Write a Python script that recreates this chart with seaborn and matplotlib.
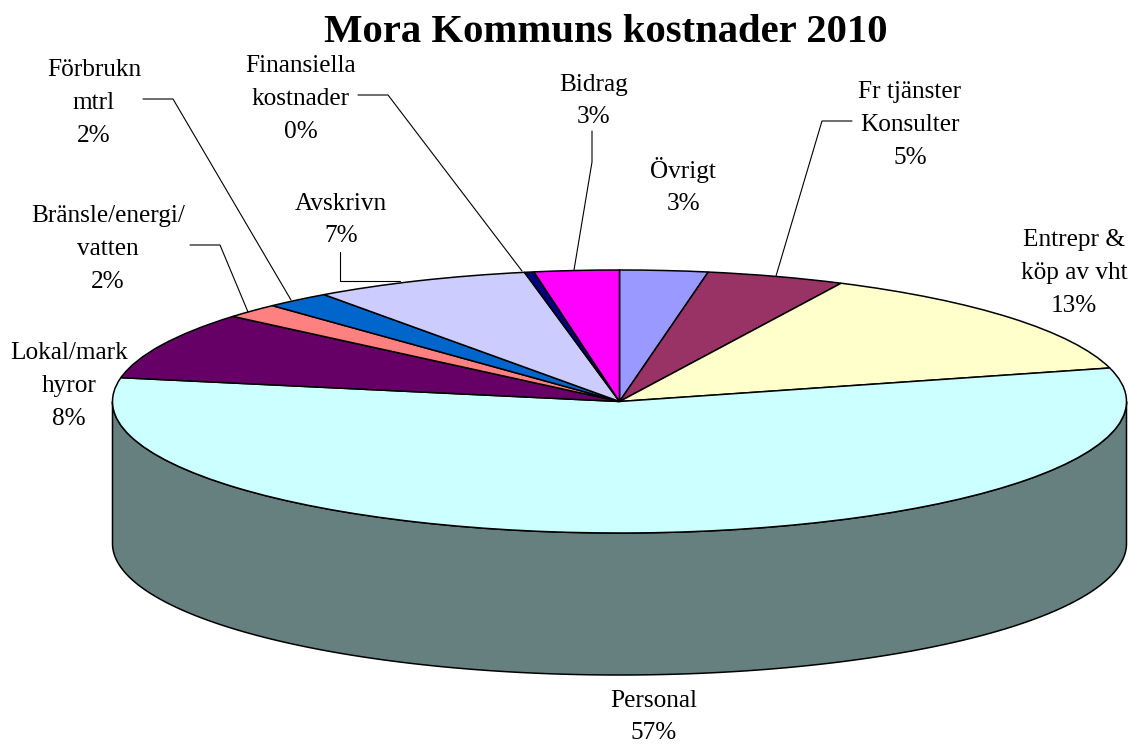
import numpy as np
import matplotlib
matplotlib.use('Agg')
import matplotlib.pyplot as plt
import seaborn as sns

# slices run clockwise from 12 o'clock
categories = ['Övrigt', 'Fr tjänster\nKonsulter', 'Entrepr &\nköp av vht', 'Personal', 'Lokal/mark\nhyror',
              'Bränsle/energi/\nvatten', 'Förbrukn\nmtrl', 'Avskrivn', 'Finansiella\nkostnader', 'Bidrag']
values = [2.8, 4.4, 13.7, 57.0, 8.3, 1.8, 2.1, 6.9, 0.3, 2.7]
percent_labels = ['3%', '5%', '13%', '57%', '8%', '2%', '2%', '7%', '0%', '3%']
slice_colors = ['#9999FF', '#993366', '#FFFFCC', '#CCFFFF', '#660066',
                '#FF8080', '#0066CC', '#CCCCFF', '#000080', '#FF00FF']
wall_color = '#668080'

# label centres in pixels, same order as categories
label_x = [683, 910, 1074, 654, 69, 108, 94, 341, 301, 594]
label_y = [186, 125, 273, 717, 386, 249, 103, 220, 99, 101]

# leader lines in pixels
leaders = [
    ([143, 173, 291], [99, 99, 300]),
    ([358, 388, 522], [95, 95, 271]),
    ([592, 592, 574], [131, 162, 270]),
    ([852, 822, 776], [121, 121, 276]),
    ([190, 220, 248], [245, 245, 312]),
    ([340, 340, 400], [252, 281, 281]),
]

W, H = 1128, 744
CX, CY, RX, RY, DEPTH = 619.5, 401.5, 507.0, 131.5, 142.0

sns.set_theme(style='white')
plt.rcParams['font.family'] = ['Liberation Serif', 'DejaVu Serif']

fig = plt.figure(figsize=(W / 100, H / 100), dpi=100, facecolor='white')

# pie axes: unit circle squashed to the ellipse
ax = fig.add_axes([0, 0, 1, 1])
wedges, _ = ax.pie(values, colors=slice_colors, startangle=90, counterclock=False, radius=1,
                   wedgeprops={'edgecolor': 'black', 'linewidth': 1.1})
for w in wedges:
    w.set_zorder(3)

# side wall below the front half
theta = np.radians(np.linspace(180, 360, 400))
wall_x = np.concatenate([np.cos(theta), np.cos(theta)[::-1]])
wall_y = np.concatenate([np.sin(theta) - DEPTH / RY, np.sin(theta)[::-1]])
ax.fill(wall_x, wall_y, facecolor=wall_color, edgecolor='black', linewidth=1.1, zorder=1)

ax.set_aspect('auto')
ax.set_xlim((0 - CX) / RX, (W - CX) / RX)
ax.set_ylim((CY - H) / RY, (CY - 0) / RY)
ax.axis('off')

# overlay in pixel coordinates for texts and leader lines
top = fig.add_axes([0, 0, 1, 1], xlim=(0, W), ylim=(H, 0))
top.patch.set_alpha(0)
top.axis('off')

for xs, ys in leaders:
    top.plot(xs, ys, color='black', linewidth=0.8, zorder=2)

for name, pct, x, y in zip(categories, percent_labels, label_x, label_y):
    top.text(x, y, name + '\n' + pct, ha='center', va='center', ma='center',
             fontsize=18.2, linespacing=1.62, color='black')

top.text(606, 33, 'Mora Kommuns kostnader 2010', ha='center', va='center',
         fontsize=29.3, fontweight='bold', color='black')

fig.savefig('out.png', dpi=100, facecolor='white')
